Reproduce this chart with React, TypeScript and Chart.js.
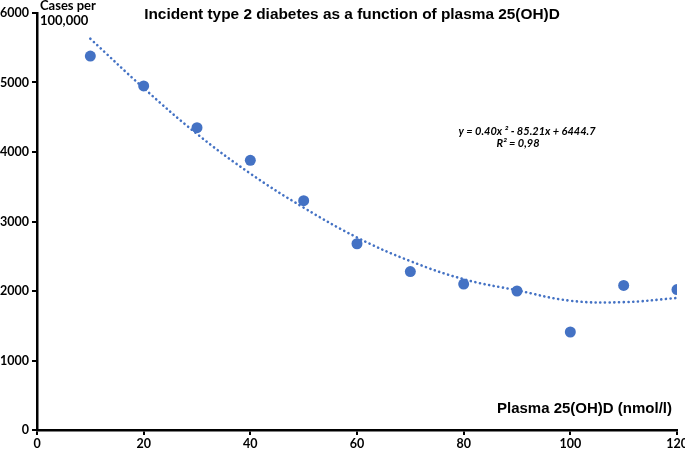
import React, { useEffect, useRef } from "react";
import { Chart, registerables } from "chart.js";

Chart.register(...registerables);

const plasmaLevels = [10, 20, 30, 40, 50, 60, 70, 80, 90, 100, 110, 120];
const casesPer100k = [5380, 4950, 4350, 3880, 3300, 2680, 2280, 2100, 2000, 1410, 2080, 2020];
const trendX = [10, 20, 30, 40, 50, 60, 70, 80, 90, 100, 110, 120];
const trendY = [5630, 4920, 4260, 3690, 3200, 2770, 2430, 2170, 2010, 1860, 1840, 1900];

const titleText = "Incident type 2 diabetes as a function of plasma 25(OH)D";
const yAxisTitle = ["Cases per", "100,000"];
const xAxisTitle = "Plasma 25(OH)D (nmol/l)";
const equationText = "y = 0.40x \u00B2 - 85.21x + 6444.7";
const r2Text = "R\u00B2 = 0,98";

const BLUE = "#4472C4";

const textPlugin = {
  id: "textPlugin",
  afterDraw(chart: any) {
    const ctx = chart.ctx;
    ctx.save();
    ctx.fillStyle = "#000";
    ctx.textBaseline = "middle";
    ctx.font = "bold 15.4px 'Liberation Sans', Arial, sans-serif";
    ctx.textAlign = "center";
    ctx.fillText(titleText, 352, 15);

    ctx.font = "bold 13px Lato, 'Open Sans', sans-serif";
    ctx.textAlign = "left";
    ctx.fillText(yAxisTitle[0], 40, 6);
    ctx.fillText(yAxisTitle[1], 40, 21);

    ctx.font = "bold 15px 'Liberation Sans', Arial, sans-serif";
    ctx.textAlign = "right";
    ctx.fillText(xAxisTitle, 672, 409);

    ctx.font = "italic bold 11px Lato, 'Open Sans', sans-serif";
    ctx.textAlign = "center";
    ctx.fillText(equationText, 527, 131);
    ctx.fillText(r2Text, 518, 143);
    ctx.restore();
  },
};

export default function App() {
  const ref = useRef<HTMLCanvasElement>(null);

  useEffect(() => {
    document.body.style.margin = "0";
    const canvas = ref.current!;
    const tickFont = { family: "Lato, 'Open Sans', sans-serif", weight: "bold" as const, size: 12.5 };
    const chart = new Chart(canvas, {
      type: "scatter",
      data: {
        datasets: [
          {
            type: "line",
            label: "Trend",
            data: trendX.map((x, i) => ({ x, y: trendY[i] })),
            borderColor: BLUE,
            borderWidth: 2.6,
            borderDash: [0.1, 4.6],
            borderCapStyle: "round",
            pointRadius: 0,
            tension: 0.4,
            fill: false,
            order: 2,
          } as any,
          {
            label: "Cases",
            data: plasmaLevels.map((x, i) => ({ x, y: casesPer100k[i] })),
            backgroundColor: BLUE,
            borderColor: BLUE,
            pointRadius: 5.5,
            pointBorderWidth: 0,
            order: 1,
          },
        ],
      },
      options: {
        responsive: false,
        animation: false,
        layout: { padding: { top: 13, right: 8, left: 0, bottom: 0 } },
        plugins: {
          legend: { display: false },
          tooltip: { enabled: false },
          title: { display: false },
        },
        scales: {
          x: {
            type: "linear",
            min: 0,
            max: 120,
            afterFit: (s: any) => {
              s.height = 22;
              s.paddingRight = 0;
              s.paddingLeft = 0;
            },
            ticks: {
              stepSize: 20,
              color: "#000",
              font: tickFont,
              padding: 1,
              maxRotation: 0,
              callback: (v: any) => String(v),
            },
            grid: {
              drawOnChartArea: false,
              drawTicks: true,
              tickLength: 5,
              color: "#000",
              lineWidth: 2,
            },
            border: { display: true, color: "#000", width: 2.5 },
          },
          y: {
            type: "linear",
            min: 0,
            max: 6000,
            afterFit: (s: any) => {
              s.width = 37;
              s.paddingTop = 0;
              s.paddingBottom = 0;
            },
            ticks: {
              stepSize: 1000,
              color: "#000",
              font: tickFont,
              padding: 3,
              callback: (v: any) => String(v),
            },
            grid: {
              drawOnChartArea: false,
              drawTicks: true,
              tickLength: 5,
              color: "#000",
              lineWidth: 2,
            },
            border: { display: true, color: "#000", width: 2.5 },
          },
        },
      },
      plugins: [textPlugin],
    });
    return () => chart.destroy();
  }, []);

  return (
    <div style={{ position: "absolute", left: 0, top: 0, width: 685, height: 452 }}>
      <canvas ref={ref} width={685} height={452} style={{ display: "block" }} />
    </div>
  );
}
